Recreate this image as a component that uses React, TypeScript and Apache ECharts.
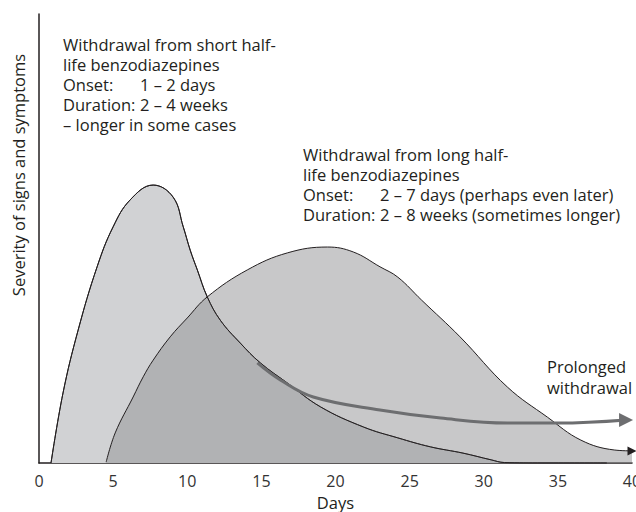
import React, { useEffect, useRef } from "react";
import * as echarts from "echarts";

const xTicks = [0, 5, 10, 15, 20, 25, 30, 35, 40];

const shortHalfLife: [number, number][] = [
  [0.81, 0], [1.62, 15.6], [2.64, 29.6], [3.92, 43.7], [5.0, 52.6], [6.15, 58.6],
  [7.7, 61.9], [9.05, 59.2], [9.73, 52.6], [10.2, 47.4], [10.68, 43.0], [11.35, 37.0],
  [12.23, 31.8], [13.58, 26.7], [14.93, 22.3], [16.76, 17.8], [18.99, 12.5], [21.9, 8.0],
  [24.2, 5.6], [26.4, 3.6], [28.6, 2.2], [30.5, 0.7], [31.4, 0.1], [34, 0], [38.3, 0],
];

const longHalfLife: [number, number][] = [
  [4.53, 0.2], [5.14, 6.7], [6.35, 14.7], [7.03, 19.2], [7.7, 22.9], [8.85, 28.1],
  [10.0, 32.3], [11.35, 37.0], [14.05, 43.0], [16.76, 46.8], [19.46, 48.1], [21.2, 47.0],
  [23.0, 43.7], [24.2, 41.4], [25.8, 36.3], [28.4, 28.1], [31.6, 16.9], [34.3, 10.2],
  [36.55, 5.1], [38.8, 2.9], [40.0, 2.7],
];

const prolonged: [number, number][] = [
  [14.73, 22.3], [16.28, 18.5], [18.5, 14.7], [23.0, 11.8], [27.1, 10.0], [31.6, 8.9],
  [35.0, 8.9], [39.6, 9.6],
];

const shortText = ["Withdrawal from short half-", "life benzodiazepines"];
const shortOnset = ["Onset:", "1 – 2 days"];
const shortDuration = ["Duration:", "2 – 4 weeks"];
const shortExtra = "– longer in some cases";

const longText = ["Withdrawal from long half-", "life benzodiazepines"];
const longOnset = ["Onset:", "2 – 7 days (perhaps even later)"];
const longDuration = ["Duration:", "2 – 8 weeks (sometimes longer)"];

const prolongedText = ["Prolonged", "withdrawal"];

const FONT = "'Open Sans', 'Noto Sans', sans-serif";
const TXT = "#231f20";
const FS = 16.5;

function withArrow(pts: [number, number][], size: number) {
  return pts.map((p, i) =>
    i === pts.length - 1
      ? { value: p, symbol: "triangle", symbolSize: size, symbolRotate: -90 }
      : { value: p, symbol: "none" }
  );
}

function measure(s: string) {
  const c = document.createElement("canvas").getContext("2d");
  if (!c) return s.length * FS * 0.5;
  c.font = `${FS}px ${FONT}`;
  return c.measureText(s).width;
}

function block(x: number, y: number, lines: string[], lh: number, labelW: number) {
  return {
    type: "text",
    x,
    y,
    style: {
      text: lines.join("\n"),
      fill: TXT,
      fontSize: FS,
      fontFamily: FONT,
      lineHeight: lh,
      verticalAlign: "top",
      rich: {
        l: { width: labelW, fontSize: FS, fontFamily: FONT, lineHeight: lh, fill: TXT },
        v: { fontSize: FS, fontFamily: FONT, lineHeight: lh, fill: TXT },
      },
    },
  };
}

const row = (pair: string[]) => `{l|${pair[0]}}{v|${pair[1]}}`;

export default function App() {
  const ref = useRef<HTMLDivElement>(null);
  useEffect(() => {
    document.body.style.margin = "0";
    document.body.style.overflow = "hidden";
    document.documentElement.style.overflow = "hidden";
    if (!ref.current) return;
    const chart = echarts.init(ref.current, null, { renderer: "svg" });
    const labelW = Math.max(69, Math.ceil(measure("Duration: ")));
    chart.setOption({
      animation: false,
      grid: {
        left: 39,
        right: 4,
        top: 14,
        bottom: 49,
        containLabel: false,
        outerBoundsMode: "none",
      },
      xAxis: {
        type: "value",
        min: 0,
        max: 40,
        interval: 5,
        axisLine: { show: true, lineStyle: { color: "#231f20", width: 1.5 } },
        axisTick: { show: false },
        splitLine: { show: false },
        axisLabel: {
          color: "#333",
          fontSize: 16,
          fontFamily: FONT,
          margin: 10,
          hideOverlap: false,
          formatter: (v: number) => (xTicks.includes(v) ? String(v) : ""),
        },
        name: "Days",
        nameLocation: "middle",
        nameGap: 27,
        nameTextStyle: { color: TXT, fontSize: FS, fontFamily: FONT },
      },
      yAxis: {
        type: "value",
        min: 0,
        max: 100,
        axisLine: { show: true, lineStyle: { color: "#231f20", width: 1.5 } },
        axisTick: { show: false },
        axisLabel: { show: false },
        splitLine: { show: false },
      },
      series: [
        {
          type: "line",
          data: shortHalfLife,
          smooth: 0.4,
          symbol: "none",
          z: 1,
          lineStyle: { color: "#231f20", width: 1 },
          areaStyle: { color: "#d1d2d4", opacity: 1 },
        },
        {
          type: "line",
          data: withArrow(longHalfLife, 9),
          smooth: 0.4,
          showSymbol: true,
          z: 2,
          itemStyle: { color: "#231f20" },
          lineStyle: { color: "#231f20", width: 1 },
          areaStyle: { color: "rgb(145,146,148)", opacity: 0.5 },
        },
        {
          type: "line",
          data: shortHalfLife,
          smooth: 0.4,
          symbol: "none",
          z: 3,
          lineStyle: { color: "#231f20", width: 1 },
        },
        {
          type: "line",
          data: withArrow(prolonged, 14),
          smooth: 0.4,
          showSymbol: true,
          z: 4,
          itemStyle: { color: "#6d6e70" },
          lineStyle: { color: "#6d6e70", width: 3 },
        },
      ],
      graphic: [
        {
          type: "text",
          x: 18,
          y: 175,
          rotation: Math.PI / 2,
          style: {
            text: "Severity of signs and symptoms",
            fill: TXT,
            fontSize: FS,
            fontFamily: FONT,
            align: "center",
            verticalAlign: "middle",
          },
        },
        block(63, 34.5, [...shortText, row(shortOnset), row(shortDuration), shortExtra], 20, labelW),
        block(303, 144.5, [...longText, row(longOnset), row(longDuration)], 20, labelW),
        block(547, 355.5, prolongedText, 21, labelW),
      ],
    });
    return () => chart.dispose();
  }, []);
  return <div ref={ref} style={{ width: 636, height: 512, overflow: "hidden" }} />;
}
